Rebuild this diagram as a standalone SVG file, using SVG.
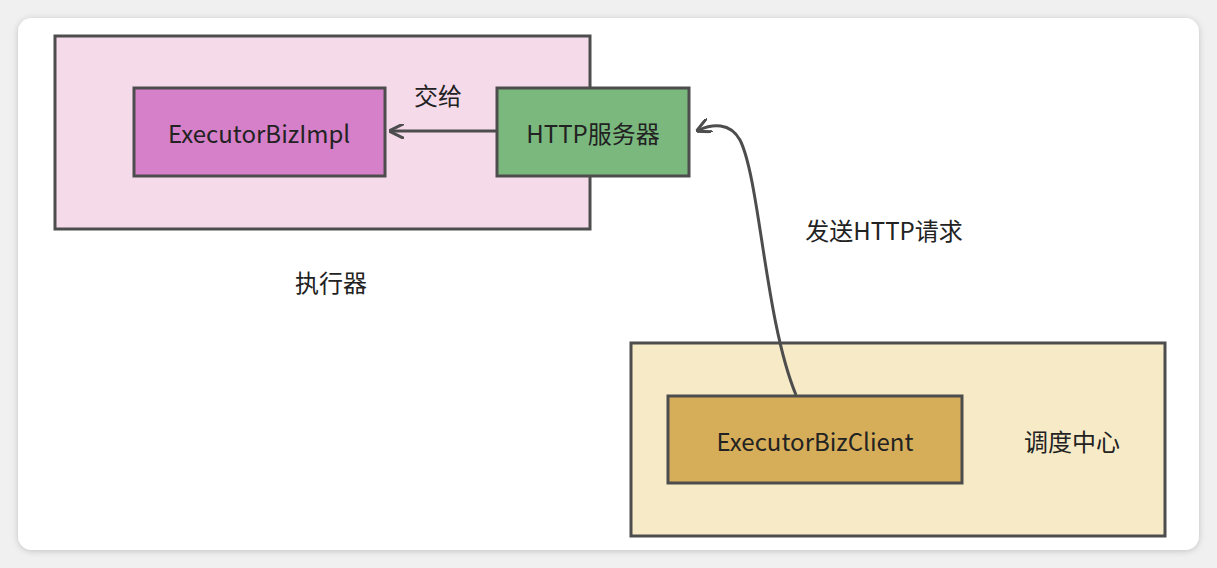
<svg xmlns="http://www.w3.org/2000/svg" width="1217" height="568" viewBox="0 0 1217 568">
<defs>
<style>
text{font-family:"Noto Sans CJK SC","Noto Sans",sans-serif;font-size:24px;fill:#222;text-anchor:middle;dominant-baseline:central}
.b{stroke:#4d4d4d;stroke-width:3}
.c{fill:none;stroke:#4d4d4d;stroke-width:3}
</style>
<marker id="a" viewBox="0 0 10 10" refX="8" refY="5" markerWidth="5" markerHeight="5" orient="auto"><path d="M0,0 L10,5 L0,10" fill="none" stroke="#4d4d4d" stroke-width="2"/></marker>
<filter id="s" x="-5%" y="-5%" width="110%" height="110%"><feDropShadow dx="0" dy="1" stdDeviation="3" flood-color="#000" flood-opacity="0.2"/></filter>
</defs>
<rect width="1217" height="568" fill="#f0f0f0"/>
<rect x="18" y="18" width="1181" height="532" rx="14" fill="#fff" filter="url(#s)"/>
<g id="executor"><rect class="b" x="55" y="36" width="535" height="193" fill="#f5dbea"/><text x="331" y="281">执行器</text></g>
<g id="impl"><rect class="b" x="134" y="88" width="251" height="88" fill="#d580c8"/><text x="259" y="132">ExecutorBizImpl</text></g>
<g id="http"><rect class="b" x="497" y="88" width="192" height="88" fill="#7ab87e"/><text x="593" y="132">HTTP服务器</text></g>
<g id="scheduler"><rect class="b" x="631" y="343" width="534" height="193" fill="#f6eac7"/><text x="1072" y="440">调度中心</text></g>
<g id="client"><rect class="b" x="668" y="396" width="294" height="87" fill="#d6ae5a"/><text x="815" y="440">ExecutorBizClient</text></g>
<g id="connectors">
<path class="c" d="M497,131 L392,131" marker-end="url(#a)"/>
<text x="438" y="94">交给</text>
<path class="c" d="M796,395 C765,320 760,180 740,140 C730,122 712,124 699,130" marker-end="url(#a)"/>
<text x="884" y="229">发送HTTP请求</text>
</g>
</svg>
